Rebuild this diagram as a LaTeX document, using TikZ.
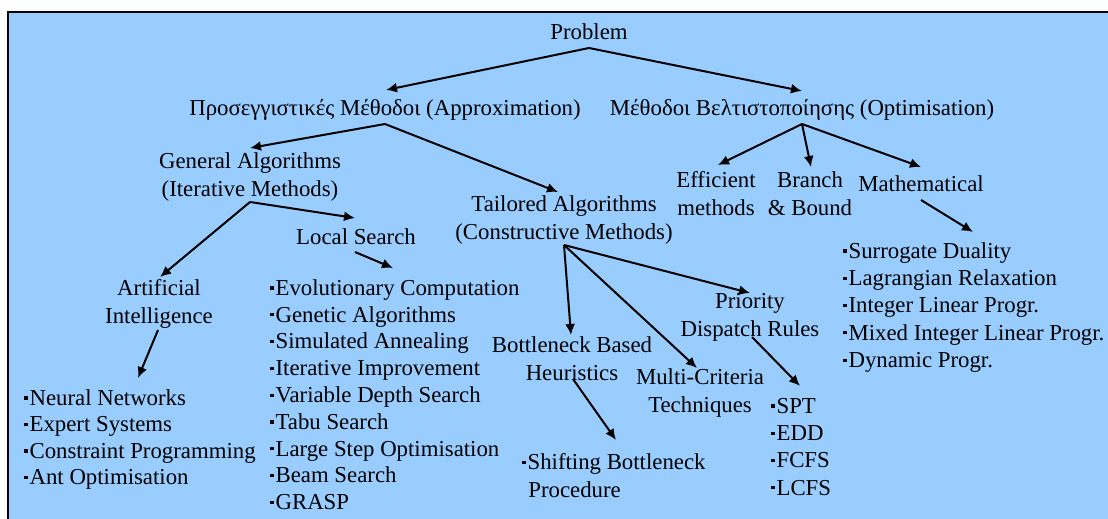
\documentclass[tikz,border=0pt]{standalone}
\usepackage{fontspec}
\setmainfont{Liberation Serif}
\usetikzlibrary{arrows.meta,calc}
\definecolor{paneblue}{RGB}{153,204,255}
\newcommand{\itemdot}{\raisebox{2.9pt}{\rule{1.6pt}{1.6pt}}\hspace{1pt}}
\tikzset{
	lbl/.style={inner sep=0pt,align=center,font=\fontsize{11.4}{14}\selectfont},
	itm/.style={inner sep=0pt,anchor=west,text height=7.8pt,text depth=2.5pt,font=\fontsize{11.4}{14}\selectfont},
	arr/.style={line width=1pt,-{Latex[length=5.5pt,width=5pt]}}
}

\begin{document}
\begin{tikzpicture}[x=0.5pt,y=-0.5pt]
	\useasboundingbox (0,0) rectangle (1108,519);
	\fill[paneblue] (8,12) rectangle (1108,519);
	\draw[line width=1.3pt] (8,519) -- (8,12) -- (1108,12);

	\node[lbl] (prob) at (589,32) {Problem};
	\node[lbl] (approx) at (385,110) {Προσεγγιστικές Μέθοδοι (Approximation)};
	\node[lbl] (optim) at (802,110) {Μέθοδοι Βελτιστοποίησης (Optimisation)};
	\node[lbl] (gen) at (250,177.5) {General Algorithms\\(Iterative Methods)};
	\node[lbl] (tail) at (564,220) {Tailored Algorithms\\(Constructive Methods)};
	\node[lbl] (eff) at (716,194) {Efficient\\methods};
	\node[lbl] (bb) at (810,194) {Branch\\\& Bound};
	\node[lbl] (math) at (921,184) {Mathematical};
	\node[lbl] (ls) at (356,237) {Local Search};
	\node[lbl] (ai) at (159,304) {Artificial\\Intelligence};
	\node[lbl] (bott) at (572,359) {Bottleneck Based\\Heuristics};
	\node[lbl] (multi) at (700,393.5) {Multi-Criteria\\Techniques};
	\node[lbl] (prio) at (750,317) {Priority\\Dispatch Rules};
	\node[lbl,align=left,anchor=west] (shift) at (522,476) {\itemdot Shifting Bottleneck\\\hspace{3pt}Procedure};

	\foreach \t [count=\i] in {Neural Networks,Expert Systems,Constraint Programming,Ant Optimisation}
		\node[itm] (aiitem\i) at (24,{400+26.5*(\i-1)}) {\itemdot\t};
	\foreach \t [count=\i] in {Evolutionary Computation,Genetic Algorithms,Simulated Annealing,Iterative Improvement,Variable Depth Search,Tabu Search,Large Step Optimisation,Beam Search,GRASP}
		\node[itm] (lsitem\i) at (270,{290+26.8*(\i-1)}) {\itemdot\t};
	\foreach \t [count=\i] in {SPT,EDD,FCFS,LCFS}
		\node[itm] (pditem\i) at (771,{408+27.3*(\i-1)}) {\itemdot\t};
	\foreach \t [count=\i] in {Surrogate Duality,Lagrangian Relaxation,Integer Linear Progr.,Mixed Integer Linear Progr.,Dynamic Progr.}
		\node[itm] (mpitem\i) at (843,{253+27.3*(\i-1)}) {\itemdot\t};

	\draw[arr] ($(prob)+(0,16)$) -- ($(approx)+(1,-20)$);
	\draw[arr] ($(prob)+(0,16)$) -- ($(optim)+(0,-19)$);
	\draw[arr] ($(approx)+(0,14)$) -- ($(gen)+(0,-29.5)$);
	\draw[arr] ($(approx)+(0,14)$) -- ($(tail)+(-6,-28)$);
	\draw[arr] ($(optim)+(0,14)$) -- ($(eff)+(2,-29)$);
	\draw[arr] ($(optim)+(0,14)$) -- ($(bb)+(1,-27)$);
	\draw[arr] ($(optim)+(0,14)$) -- ($(math)+(0,-17)$);
	\draw[arr] ($(gen)+(0,24.5)$) -- ($(ai)+(1,-27)$);
	\draw[arr] ($(gen)+(0,24.5)$) -- ($(ls)+(-1,-19)$);
	\draw[arr] ($(ls)+(-1,15)$) -- ($(lsitem1.west)+(123,-22)$);
	\draw[arr] ($(ai)+(-1,26)$) -- ($(aiitem1.west)+(114,-22)$);
	\draw[arr] ($(tail)+(0,25)$) -- ($(bott)+(-1,-24)$);
	\draw[arr] ($(tail)+(0,25)$) -- ($(multi)+(-3,-25.5)$);
	\draw[arr] ($(tail)+(0,25)$) -- ($(prio)+(0,-24)$);
	\draw[arr] ($(bott)+(1,20)$) -- ($(shift.west)+(94,-36)$);
	\draw[arr] ($(prio)+(2,20)$) -- ($(pditem1.west)+(29,-22)$);
	\draw[arr] ($(math)+(0,16)$) -- ($(mpitem1.west)+(130,-21)$);
\end{tikzpicture}
\end{document}
